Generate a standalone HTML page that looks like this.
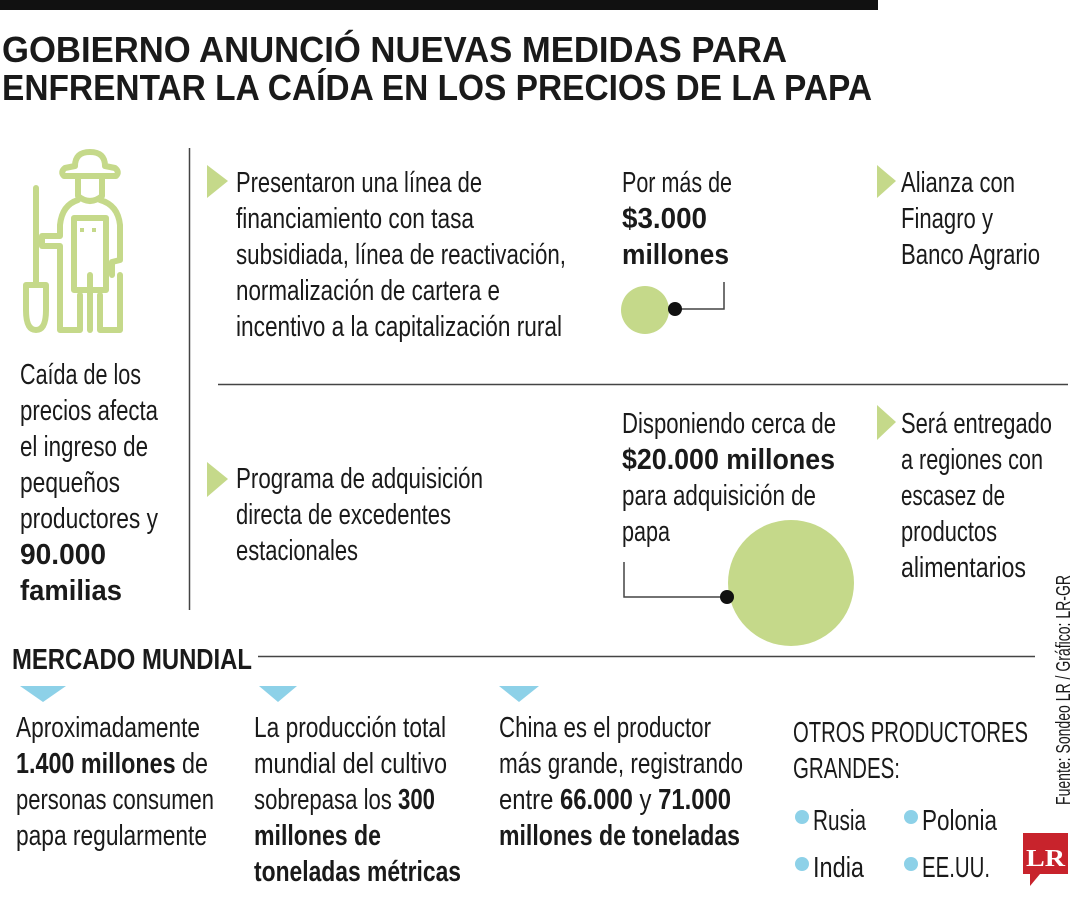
<!DOCTYPE html>
<html><head><meta charset="utf-8"><style>
html,body{margin:0;padding:0;background:#fff;}
svg{display:block;}
text{font-family:"Liberation Sans Narrow","Liberation Sans",sans-serif;fill:#1a1a1a;font-size:29px;}
.b{font-weight:bold;}
.t{font-family:"Liberation Sans","DejaVu Sans",sans-serif;font-weight:bold;font-size:36px;}
</style></head><body>
<svg width="1080" height="900" viewBox="0 0 1080 900" xmlns="http://www.w3.org/2000/svg">
<rect x="0" y="0" width="878" height="10" fill="#111"/>
<text class="t" x="2" y="62" textLength="785" lengthAdjust="spacingAndGlyphs">GOBIERNO ANUNCIÓ NUEVAS MEDIDAS PARA</text>
<text class="t" x="2" y="100" textLength="870" lengthAdjust="spacingAndGlyphs">ENFRENTAR LA CAÍDA EN LOS PRECIOS DE LA PAPA</text>

<!-- farmer -->
<g fill="none" stroke="#c5d98a" stroke-width="6" stroke-linejoin="round" stroke-linecap="round">
<path d="M75 166 Q75 152 90 152 Q105 152 105 166 L115 168 Q120 172 116 176 L64 176 Q60 172 65 168 Z"/>
<path d="M78 178 L78 196 Q90 206 102 196 L102 178"/>
<path d="M78 200 Q62 205 60 225 L60 236 L42 236 L42 246 L60 246 L60 330 L80 330 L80 295 M100 200 Q118 205 120 225 L120 260 L112 262 L112 275 M120 275 L120 330 L100 330 L100 295"/>
<path d="M74 218 L106 218 L106 290 L74 290 Z"/>
<path d="M90 275 L90 330"/>
<path d="M36 188 L36 285 M26 285 L46 285 L46 310 Q46 330 36 330 Q26 330 26 310 Z"/>
</g>
<rect x="80" y="228" width="4" height="4" fill="#c5d98a"/><rect x="92" y="228" width="4" height="4" fill="#c5d98a"/>

<text x="20" y="384" textLength="121" lengthAdjust="spacingAndGlyphs">Caída de los</text>
<text x="20" y="420" textLength="138" lengthAdjust="spacingAndGlyphs">precios afecta</text>
<text x="20" y="456" textLength="128" lengthAdjust="spacingAndGlyphs">el ingreso de</text>
<text x="20" y="492" textLength="100" lengthAdjust="spacingAndGlyphs">pequeños</text>
<text x="20" y="528" textLength="138" lengthAdjust="spacingAndGlyphs">productores y</text>
<text class="b" x="20" y="564" textLength="86" lengthAdjust="spacingAndGlyphs">90.000</text>
<text class="b" x="20" y="600" textLength="102" lengthAdjust="spacingAndGlyphs">familias</text>

<line x1="189.5" y1="148" x2="189.5" y2="610" stroke="#444" stroke-width="1.5"/>
<line x1="218" y1="384.5" x2="1068" y2="384.5" stroke="#444" stroke-width="1.5"/>

<g fill="#c5d98a">
<polygon points="207,165 228,181 207,198"/>
<polygon points="877,165 896,181 877,198"/>
<polygon points="207,462 228,479 207,497"/>
<polygon points="877,405 896,422 877,440"/>
</g>

<text x="236" y="192" textLength="246" lengthAdjust="spacingAndGlyphs">Presentaron una línea de</text>
<text x="236" y="228" textLength="238" lengthAdjust="spacingAndGlyphs">financiamiento con tasa</text>
<text x="236" y="264" textLength="330" lengthAdjust="spacingAndGlyphs">subsidiada, línea de reactivación,</text>
<text x="236" y="300" textLength="264" lengthAdjust="spacingAndGlyphs">normalización de cartera e</text>
<text x="236" y="336" textLength="326" lengthAdjust="spacingAndGlyphs">incentivo a la capitalización rural</text>

<text x="622" y="192" textLength="110" lengthAdjust="spacingAndGlyphs">Por más de</text>
<text class="b" x="622" y="228" textLength="85" lengthAdjust="spacingAndGlyphs">$3.000</text>
<text class="b" x="622" y="264" textLength="107" lengthAdjust="spacingAndGlyphs">millones</text>
<circle cx="645" cy="310" r="24" fill="#c5d98a"/>
<polyline points="675,309 724,309 724,282" fill="none" stroke="#444" stroke-width="1.5"/>
<circle cx="675" cy="309" r="7" fill="#111"/>

<text x="901" y="192" textLength="114" lengthAdjust="spacingAndGlyphs">Alianza con</text>
<text x="901" y="228" textLength="92" lengthAdjust="spacingAndGlyphs">Finagro y</text>
<text x="901" y="264" textLength="139" lengthAdjust="spacingAndGlyphs">Banco Agrario</text>

<text x="236" y="488" textLength="247" lengthAdjust="spacingAndGlyphs">Programa de adquisición</text>
<text x="236" y="524" textLength="215" lengthAdjust="spacingAndGlyphs">directa de excedentes</text>
<text x="236" y="560" textLength="122" lengthAdjust="spacingAndGlyphs">estacionales</text>

<text x="622" y="433" textLength="214" lengthAdjust="spacingAndGlyphs">Disponiendo cerca de</text>
<text class="b" x="622" y="469" textLength="213" lengthAdjust="spacingAndGlyphs">$20.000 millones</text>
<text x="622" y="505" textLength="194" lengthAdjust="spacingAndGlyphs">para adquisición de</text>
<text x="622" y="541" textLength="48" lengthAdjust="spacingAndGlyphs">papa</text>
<circle cx="791" cy="583" r="63" fill="#c5d98a"/>
<polyline points="727,597 624,597 624,562" fill="none" stroke="#444" stroke-width="1.5"/>
<circle cx="727" cy="597" r="7" fill="#111"/>

<text x="901" y="433" textLength="151" lengthAdjust="spacingAndGlyphs">Será entregado</text>
<text x="901" y="469" textLength="142" lengthAdjust="spacingAndGlyphs">a regiones con</text>
<text x="901" y="505" textLength="104" lengthAdjust="spacingAndGlyphs">escasez de</text>
<text x="901" y="541" textLength="96" lengthAdjust="spacingAndGlyphs">productos</text>
<text x="901" y="577" textLength="125" lengthAdjust="spacingAndGlyphs">alimentarios</text>

<text class="b" x="12" y="669" textLength="240" lengthAdjust="spacingAndGlyphs">MERCADO MUNDIAL</text>
<line x1="258" y1="656.5" x2="1035" y2="656.5" stroke="#444" stroke-width="1.5"/>
<g fill="#8dd1e8">
<polygon points="20,686 66,686 43,702"/>
<polygon points="259,686 297,686 278,702"/>
<polygon points="499,686 539,686 519,702"/>
</g>

<text x="16" y="737" textLength="184" lengthAdjust="spacingAndGlyphs">Aproximadamente</text>
<text x="16" y="773" textLength="192" lengthAdjust="spacingAndGlyphs"><tspan class="b">1.400 millones</tspan> de</text>
<text x="16" y="809" textLength="198" lengthAdjust="spacingAndGlyphs">personas consumen</text>
<text x="16" y="845" textLength="191" lengthAdjust="spacingAndGlyphs">papa regularmente</text>

<text x="254" y="737" textLength="192" lengthAdjust="spacingAndGlyphs">La producción total</text>
<text x="254" y="773" textLength="193" lengthAdjust="spacingAndGlyphs">mundial del cultivo</text>
<text x="254" y="809" textLength="181" lengthAdjust="spacingAndGlyphs">sobrepasa los <tspan class="b">300</tspan></text>
<text class="b" x="254" y="845" textLength="127" lengthAdjust="spacingAndGlyphs">millones de</text>
<text class="b" x="254" y="881" textLength="207" lengthAdjust="spacingAndGlyphs">toneladas métricas</text>

<text x="499" y="737" textLength="212" lengthAdjust="spacingAndGlyphs">China es el productor</text>
<text x="499" y="773" textLength="244" lengthAdjust="spacingAndGlyphs">más grande, registrando</text>
<text x="499" y="809" textLength="232" lengthAdjust="spacingAndGlyphs">entre <tspan class="b">66.000</tspan> y <tspan class="b">71.000</tspan></text>
<text class="b" x="499" y="845" textLength="241" lengthAdjust="spacingAndGlyphs">millones de toneladas</text>

<text x="793" y="742" textLength="235" lengthAdjust="spacingAndGlyphs">OTROS PRODUCTORES</text>
<text x="793" y="778" textLength="107" lengthAdjust="spacingAndGlyphs">GRANDES:</text>
<g fill="#8dd1e8">
<circle cx="802" cy="817" r="7"/><circle cx="911" cy="817" r="7"/>
<circle cx="802" cy="864" r="7"/><circle cx="911" cy="864" r="7"/>
</g>
<text x="813" y="830" textLength="53" lengthAdjust="spacingAndGlyphs">Rusia</text>
<text x="922" y="830" textLength="75" lengthAdjust="spacingAndGlyphs">Polonia</text>
<text x="813" y="877" textLength="51" lengthAdjust="spacingAndGlyphs">India</text>
<text x="922" y="877" textLength="68" lengthAdjust="spacingAndGlyphs">EE.UU.</text>

<text transform="translate(1070,805) rotate(-90)" x="0" y="0" style="font-size:20px" textLength="230" lengthAdjust="spacingAndGlyphs">Fuente: Sondeo LR / Gráfico: LR-GR</text>

<path d="M1023 833 L1068 833 L1068 874 L1040 874 L1030 886 L1030 874 L1023 874 Z" fill="#c8232c"/>
<text x="1026" y="866" style="font-family:'Liberation Serif',serif;font-weight:bold;font-size:24px;fill:#fff" textLength="39" lengthAdjust="spacingAndGlyphs">LR</text>
</svg>
</body></html>
